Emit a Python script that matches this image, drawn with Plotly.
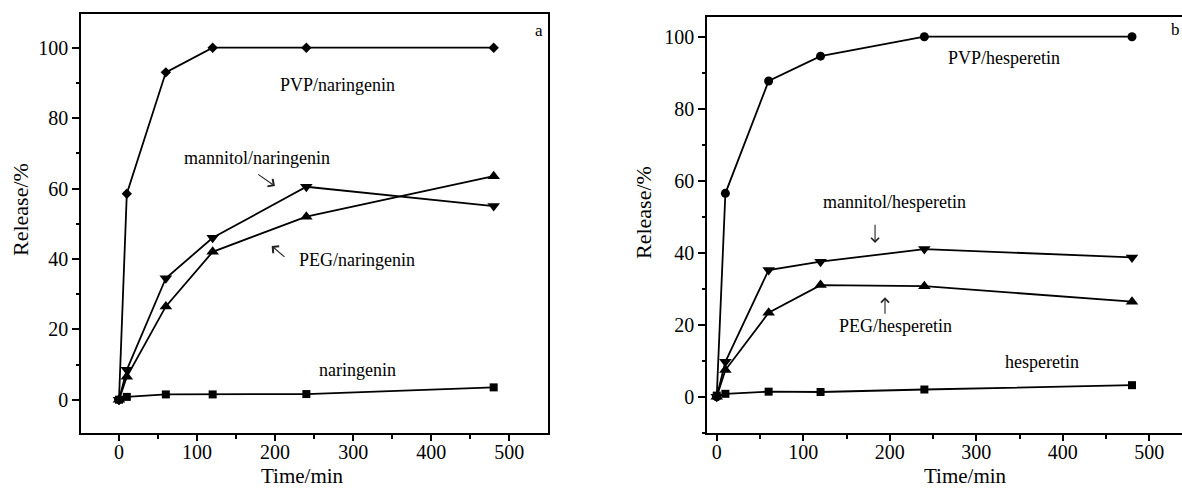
import plotly.graph_objects as go

time_min = [0, 10, 60, 120, 240, 480]

# Panel a (naringenin)
pvp_naringenin = [0, 58.5, 93, 100, 100, 100]
mannitol_naringenin = [0, 8.5, 34.5, 46, 60.5, 55]
peg_naringenin = [0, 6.5, 26.5, 42, 52, 63.5]
naringenin = [0, 0.8, 1.5, 1.5, 1.6, 3.5]

# Panel b (hesperetin)
pvp_hesperetin = [0, 56.5, 87.7, 94.6, 100, 100]
mannitol_hesperetin = [0, 9.7, 35.2, 37.5, 41, 38.7]
peg_hesperetin = [0, 7.4, 23.3, 31, 30.7, 26.4]
hesperetin = [0.3, 0.8, 1.4, 1.3, 2, 3.2]

x_ticks = [0, 100, 200, 300, 400, 500]
y_ticks = [0, 20, 40, 60, 80, 100]

FONT = "Liberation Serif"
W, H = 1182, 489

fig = go.Figure()

def add_series(y, marker, size, xa, ya):
    fig.add_trace(go.Scatter(
        x=time_min, y=y, mode="lines+markers",
        line=dict(color="black", width=1.8),
        marker=dict(symbol=marker, size=size, color="black"),
        xaxis=xa, yaxis=ya, showlegend=False, cliponaxis=False))

add_series(pvp_naringenin, "diamond", 8, "x", "y")
add_series(mannitol_naringenin, "triangle-down", 11, "x", "y")
add_series(peg_naringenin, "triangle-up", 11, "x", "y")
add_series(naringenin, "square", 8, "x", "y")

add_series(pvp_hesperetin, "circle", 9, "x2", "y2")
add_series(mannitol_hesperetin, "triangle-down", 11, "x2", "y2")
add_series(peg_hesperetin, "triangle-up", 11, "x2", "y2")
add_series(hesperetin, "square", 8, "x2", "y2")

axis_common = dict(
    showline=True, linecolor="black", linewidth=2, ticks="outside",
    tickcolor="black", tickwidth=1.5, showgrid=False, zeroline=False,
    tickfont=dict(family=FONT, size=20, color="black"), automargin=False,
)
xminor = dict(dtick=50, ticklen=4, ticks="outside", tickcolor="black", tickwidth=1.5)
yminor = dict(dtick=10, ticklen=3, ticks="outside", tickcolor="black", tickwidth=1.5)

fig.update_layout(
    width=W, height=H, margin=dict(l=0, r=0, t=0, b=0),
    paper_bgcolor="white", plot_bgcolor="white",
    font=dict(family=FONT, color="black"),
    xaxis=dict(domain=[81.3 / W, 547.7 / W], range=[-48.3, 549.2],
               tickvals=x_ticks, ticklen=6, mirror=True, ticklabelstandoff=-6,
               minor=xminor, anchor="y", **axis_common),
    yaxis=dict(domain=[1 - 433 / H, 1 - 13.7 / H], range=[-9.46, 109.66],
               tickvals=y_ticks, ticklen=7, mirror=True,
               minor=yminor, anchor="x", **axis_common),
    xaxis2=dict(domain=[707.3 / W, 1.0], range=[-10.9, 537.8],
                tickvals=x_ticks, ticklen=6, mirror=True, ticklabelstandoff=-6,
                minor=xminor, anchor="y2", **axis_common),
    yaxis2=dict(domain=[1 - 432.7 / H, 1 - 16.7 / H], range=[-10, 105.56],
                tickvals=y_ticks, ticklen=7, mirror=False,
                minor=yminor, anchor="x2", **axis_common),
)

ann = []
def label(text, x, y, xa, ya, size=18, xanchor="center"):
    ann.append(dict(text=text, x=x, y=y, xref=xa, yref=ya, showarrow=False,
                    xanchor=xanchor, yanchor="middle",
                    font=dict(family=FONT, size=size, color="black")))

def arrow(x, y, ax, ay, xa, ya, size=1.6):
    ann.append(dict(text="", x=x, y=y, ax=ax, ay=ay, xref=xa, yref=ya,
                    axref=xa, ayref=ya, showarrow=True, arrowhead=4,
                    arrowsize=size, arrowwidth=1.1, arrowcolor="#222"))

# Panel a labels
label("PVP/naringenin", 279.9, 89.4, "x", "y")
label("mannitol/naringenin", 176.8, 68.7, "x", "y")
label("PEG/naringenin", 305.5, 39.7, "x", "y")
label("naringenin", 305.8, 8.4, "x", "y")
label("a", 538, 105, "x", "y", size=17)
arrow(199.8, 60.7, 176.4, 64.3, "x", "y")
arrow(195.6, 43.7, 213.9, 40.2, "x", "y")

# Panel b labels
label("PVP/hesperetin", 332, 94.1, "x2", "y2")
label("mannitol/hesperetin", 206, 54.2, "x2", "y2")
arrow(183, 42.7, 183, 48.2, "x2", "y2", size=1.4)
arrow(194.5, 27.6, 194.5, 22.6, "x2", "y2", size=1.4)
label("PEG/hesperetin", 206.7, 19.6, "x2", "y2")
label("hesperetin", 376, 9.7, "x2", "y2")
label("b", 537.8, 101.9, "x2", "y2", size=17, xanchor="right")

# Axis titles
def title(text, px, py, angle=0, yanchor="middle", size=22):
    ann.append(dict(text=text, x=px / W, y=1 - py / H, xref="paper", yref="paper",
                    showarrow=False, xanchor="center", yanchor=yanchor, textangle=angle,
                    borderpad=0, font=dict(family=FONT, size=size, color="black")))

title("Time/min", 302.5, 489, yanchor="bottom", size=21)
title("Time/min", 965, 489, yanchor="bottom", size=21)
title("Release/%", 21, 210, -90)
title("Release/%", 644, 213, -90)

fig.update_layout(annotations=ann)
fig.write_html("out.html")
